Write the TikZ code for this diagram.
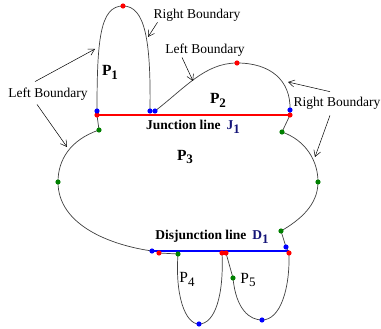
\documentclass[tikz,border=0pt]{standalone}
\usepackage{fontspec}
\setmainfont{Liberation Serif}
\usetikzlibrary{arrows.meta}
\definecolor{dgreen}{RGB}{0,128,0}
\definecolor{idxblue}{RGB}{20,20,120}
\definecolor{jred}{RGB}{255,0,0}
\definecolor{dblue}{RGB}{0,0,255}
\newcommand{\idx}[1]{\raisebox{-0.55ex}{\fontsize{13}{13}\selectfont #1}}

\begin{document}
\begin{tikzpicture}[x=1pt, y=-1pt,
  every node/.style={font=\fontsize{13.5}{15}\selectfont, inner sep=1pt},
  outline/.style={black!75, line width=0.7pt},
  pointer/.style={black, line width=0.5pt, -{Straight Barb[length=6pt,width=7pt]}},
  region/.style={font=\fontsize{15.5}{17}\selectfont}]
  \useasboundingbox (0,0) rectangle (381,329);
  % red points
  \coordinate (rP1) at (123,6);
  \coordinate (rJl) at (97,115);
  \coordinate (rP2) at (237,63);
  \coordinate (rJr) at (290,115);
  \coordinate (rDl) at (159,253);
  \coordinate (rP4) at (222,253);
  \coordinate (rP5) at (226,253);
  \coordinate (rDr) at (289,253);
  % blue points
  \coordinate (bP1l) at (97,111);
  \coordinate (bP1r) at (150,111);
  \coordinate (bP2l) at (155,111);
  \coordinate (bP2r) at (290,110);
  \coordinate (bDl) at (152,251);
  \coordinate (bDr) at (286,247);
  \coordinate (bP4) at (199,324);
  \coordinate (bP5) at (262,320);
  % green points
  \coordinate (gJl) at (99,130);
  \coordinate (gJr) at (282,132);
  \coordinate (gP3l) at (58,182);
  \coordinate (gP3r) at (318,182);
  \coordinate (gDr) at (281,231);
  \coordinate (gP4) at (178,254);
  \coordinate (gP5) at (233,278);

  % P1 and P2 lobes
  \draw[outline] (bP1l) .. controls (97,40) and (100,6) .. (rP1) .. controls (145,6) and (151,40) .. (bP1r);
  \draw[outline] (bP2l) .. controls (185,88) and (205,63) .. (rP2) .. controls (270,63) and (291,80) .. (bP2r);
  \draw[outline] (bP1l) -- (rJl) -- (gJl);
  \draw[outline] (bP2r) -- (rJr) -- (gJr);
  % P3 body
  \draw[outline] (gJl) .. controls (70,140) and (58,160) .. (gP3l) .. controls (58,225) and (110,245) .. (bDl);
  \draw[outline] (gJr) .. controls (305,140) and (318,160) .. (gP3r) .. controls (318,205) and (300,220) .. (gDr) -- (bDr) -- (rDr);
  \draw[outline] (rDl) -- (gP4);
  % P4 and P5 lobes
  \draw[outline] (gP4) .. controls (175,295) and (185,324) .. (bP4) .. controls (215,324) and (224,295) .. (rP4);
  \draw[outline] (rP5) -- (gP5) .. controls (236,310) and (250,320) .. (bP5) .. controls (280,320) and (290,290) .. (rDr);
  % junction and disjunction lines
  \draw[draw=jred, line width=1.1pt] (rJl) -- (rJr);
  \draw[draw=dblue, line width=1.1pt] (bDl) -- (bDl -| rDr);

  % dots
  \foreach \p in {rP1,rJl,rP2,rJr,rDl,rP4,rP5,rDr}
    \fill[jred] (\p) circle (2.6);
  \foreach \p in {bP1l,bP1r,bP2l,bP2r,bDl,bDr,bP4,bP5}
    \fill[dblue] (\p) circle (2.6);
  \foreach \p in {gJl,gJr,gP3l,gP3r,gDr,gP4,gP5}
    \fill[dgreen] (\p) circle (2.6);

  % region labels
  \node[region] (p1) at (110,72) {\textbf{P}\idx{\textbf{1}}};
  \node[region] (p2) at (218,100) {\textbf{P}\idx{\textbf{2}}};
  \node[region] (p3) at (185,157) {\textbf{P}\idx{\textbf{3}}};
  \node[region] (p4) at (187,279) {P\idx{4}};
  \node[region] (p5) at (248,280) {P\idx{5}};
  \node (jl) at (193,127) {\textbf{Junction line}\hspace{0.45em}\textcolor{idxblue}{\textbf{J}\idx{\textbf{1}}}};
  \node (dl) at (212,237) {\textbf{Disjunction line}\hspace{0.45em}\textcolor{idxblue}{\textbf{D}\idx{\textbf{1}}}};

  % boundary labels and pointers
  \node (lbL) at (48,94) {Left Boundary};
  \node (lbRt) at (197,15) {Right Boundary};
  \node (lbLm) at (205,50) {Left Boundary};
  \node (lbRr) at (337,103) {Right Boundary};
  \coordinate (tLa) at (95,49);
  \coordinate (tLb) at (67,147);
  \coordinate (tRt) at (148,37);
  \coordinate (tLm) at (193,81);
  \coordinate (tRa) at (288,82);
  \coordinate (tRb) at (315,157);
  \draw[pointer] ([xshift=-13pt,yshift=5pt]lbL.north) -- (tLa);
  \draw[pointer] ([xshift=-11pt,yshift=-3pt]lbL.south) -- (tLb);
  \draw[pointer] ([xshift=5pt]lbRt.south west) -- (tRt);
  \draw[pointer] ([xshift=-23pt]lbLm.south) -- (tLm);
  \draw[pointer] ([xshift=-7pt,yshift=4pt]lbRr.north) -- (tRa);
  \draw[pointer] ([xshift=-7pt,yshift=-5pt]lbRr.south) -- (tRb);
\end{tikzpicture}
\end{document}
